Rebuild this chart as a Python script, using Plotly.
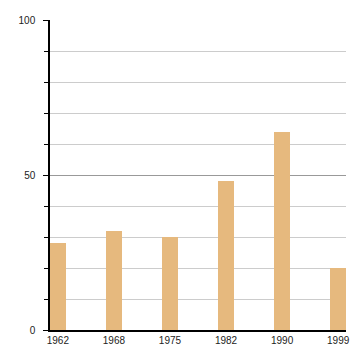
import plotly.graph_objects as go

years = ["1962", "1968", "1975", "1982", "1990", "1999"]
values = [28, 32, 30, 48, 64, 20]
y_ticks = [0, 50, 100]

fig = go.Figure(go.Bar(
    x=years, y=values, width=0.28,
    marker=dict(color="#e6b97e", line=dict(width=0)),
))

fig.update_layout(
    width=360, height=360,
    margin=dict(l=50, r=10, t=20, b=30),
    paper_bgcolor="white", plot_bgcolor="white",
    font=dict(family="Liberation Sans, Arial, sans-serif", size=10, color="#222222"),
    showlegend=False,
    bargap=0,
)
fig.update_xaxes(
    type="category", range=[-0.14, 5.14],
    showline=True, linecolor="black", linewidth=1.5,
    ticks="", showgrid=False,
    tickfont=dict(size=10, color="#222222"),
    ticklabelstandoff=0,
)
fig.update_yaxes(
    range=[0, 100], tickvals=y_ticks, ticktext=[str(v) for v in y_ticks],
    showline=True, linecolor="black", linewidth=1.5,
    ticks="outside", ticklen=5, tickcolor="black", tickwidth=1,
    showgrid=True, gridcolor="#999999", gridwidth=1,
    zeroline=False, ticklabelstandoff=6,
    tickfont=dict(size=10, color="#222222"),
    minor=dict(dtick=10, ticks="outside", ticklen=4, tickcolor="black",
               showgrid=True, gridcolor="#cccccc", gridwidth=1),
)

fig.write_html("out.html")
